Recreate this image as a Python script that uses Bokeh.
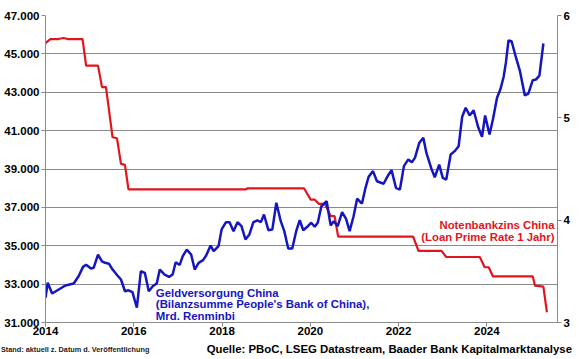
from bokeh.plotting import figure
from bokeh.layouts import column
from bokeh.models import Range1d, LinearAxis, FixedTicker, Label, Div
from bokeh.embed import file_html
from bokeh.resources import INLINE

# Geldversorgung China (Bilanzsumme PBoC), Mrd. Renminbi
money_year = [2014.00, 2014.05, 2014.15, 2014.30, 2014.45, 2014.64, 2014.75, 2014.85, 2014.92, 2015.03,
              2015.09, 2015.19, 2015.28, 2015.35, 2015.44, 2015.52, 2015.63, 2015.71, 2015.80, 2015.88,
              2015.97, 2016.07, 2016.16, 2016.25, 2016.34, 2016.43, 2016.52, 2016.59, 2016.70, 2016.80,
              2016.88, 2016.95, 2017.04, 2017.11, 2017.20, 2017.30, 2017.38, 2017.47, 2017.57, 2017.64,
              2017.74, 2017.81, 2017.92, 2017.99, 2018.09, 2018.17, 2018.26, 2018.35, 2018.44, 2018.53,
              2018.62, 2018.71, 2018.80, 2018.88, 2018.95, 2019.05, 2019.14, 2019.23, 2019.33, 2019.41,
              2019.50, 2019.59, 2019.68, 2019.76, 2019.84, 2019.93, 2020.02, 2020.10, 2020.17, 2020.25,
              2020.37, 2020.46, 2020.53, 2020.62, 2020.72, 2020.81, 2020.89, 2020.98, 2021.06, 2021.17,
              2021.25, 2021.32, 2021.42, 2021.51, 2021.66, 2021.75, 2021.84, 2021.94, 2022.03, 2022.12,
              2022.22, 2022.30, 2022.37, 2022.47, 2022.56, 2022.63, 2022.75, 2022.82, 2022.92, 2023.00,
              2023.08, 2023.18, 2023.27, 2023.36, 2023.44, 2023.52, 2023.61, 2023.70, 2023.80, 2023.89,
              2023.96, 2024.06, 2024.14, 2024.23, 2024.31, 2024.38, 2024.43, 2024.49, 2024.56, 2024.66,
              2024.75, 2024.86, 2024.94, 2025.04, 2025.11, 2025.19, 2025.28]
money_value = [32290, 33070, 32510, 32720, 32930, 33030, 33410, 33900, 34010, 33810,
               33850, 34530, 34190, 34110, 34060, 33760, 33450, 33240, 32630, 32680,
               32580, 31770, 33670, 33590, 32630, 32890, 33030, 33760, 33500, 33380,
               33500, 34140, 34000, 34460, 34800, 34540, 33760, 34110, 34250, 34490,
               35010, 34720, 34980, 35850, 36230, 36230, 35760, 36230, 36020, 35330,
               35590, 36230, 36320, 36230, 36630, 35810, 35850, 37240, 36280, 35760,
               34860, 34860, 35760, 36330, 35810, 35990, 36200, 35990, 36210, 37060,
               37320, 36060, 36280, 36020, 36750, 36400, 35760, 36540, 37450, 37200,
               38020, 38590, 38890, 38360, 38230, 38620, 38940, 38020, 37930, 39150,
               39500, 39350, 39580, 40370, 40630, 39840, 38970, 38570, 39230, 38540,
               38450, 39760, 39930, 40190, 41720, 42190, 41790, 42060, 41200, 40680,
               41790, 40800, 41620, 42710, 43180, 43810, 44530, 45700, 45660, 44800,
               44100, 42830, 42930, 43630, 43660, 43870, 45540]

# Notenbankzins China (Loan Prime Rate 1 Jahr), %
rate_year = [2014.00, 2014.11, 2014.29, 2014.41, 2014.50, 2014.84, 2014.92, 2015.19, 2015.28, 2015.37,
             2015.52, 2015.62, 2015.71, 2015.80, 2015.88, 2018.53, 2018.57, 2019.86, 2020.01, 2020.10,
             2020.19, 2020.33, 2020.46, 2020.55, 2020.63, 2022.33, 2022.45, 2022.97, 2023.08, 2023.84,
             2023.95, 2024.04, 2024.14, 2025.04, 2025.09, 2025.28, 2025.36]
rate_value = [5.73, 5.77, 5.77, 5.78, 5.77, 5.77, 5.51, 5.51, 5.30, 5.30,
              4.81, 4.80, 4.55, 4.54, 4.30, 4.30, 4.31, 4.31, 4.20, 4.20,
              4.16, 4.16, 4.04, 4.04, 3.84, 3.84, 3.70, 3.70, 3.64, 3.64,
              3.54, 3.54, 3.45, 3.45, 3.36, 3.35, 3.10]

left_ticks = [31000, 33000, 35000, 37000, 39000, 41000, 43000, 45000, 47000]
left_labels = ["31.000", "33.000", "35.000", "37.000", "39.000", "41.000", "43.000", "45.000", "47.000"]
year_ticks = [2014, 2016, 2018, 2020, 2022, 2024]
rate_ticks = [3, 4, 5, 6]

blue_lines = ["Geldversorgung China", "(Bilanzsumme People's Bank of China),", "Mrd. Renminbi"]
red_lines = ["Notenbankzins China", "(Loan Prime Rate 1 Jahr)"]
footer_left = "Stand: aktuell z. Datum d. Veröffentlichung"
footer_right = "Quelle: PBoC, LSEG Datastream, Baader Bank Kapitalmarktanalyse"

FONT = "Liberation Sans"
BLUE = "#1616c0"
RED = "#e2141c"
GRID = "#8a8a8a"
W = 572

p = figure(width=W, height=340, output_backend="svg", toolbar_location=None,
           x_range=Range1d(2014, 2025.6), y_range=Range1d(31000, 47000),
           min_border_left=45, min_border_right=12, min_border_top=15, min_border_bottom=18)
p.outline_line_color = None
p.extra_y_ranges = {"rate": Range1d(3, 6)}

p.xgrid.visible = False
p.ygrid.ticker = FixedTicker(ticks=left_ticks)
p.ygrid.grid_line_color = GRID
p.ygrid.grid_line_width = 1


def style_axis(ax, standoff=2):
    ax.axis_line_color = GRID
    ax.axis_line_width = 1
    ax.major_tick_line_color = GRID
    ax.major_tick_out = 4
    ax.major_tick_in = 0
    ax.minor_tick_line_color = None
    ax.major_label_standoff = standoff
    ax.major_label_text_font = FONT
    ax.major_label_text_font_style = "bold"
    ax.major_label_text_font_size = "11.5px"
    ax.major_label_text_color = "black"


p.xaxis.ticker = FixedTicker(ticks=year_ticks)
style_axis(p.xaxis[0], standoff=0)
p.yaxis.ticker = FixedTicker(ticks=left_ticks)
p.yaxis.major_label_overrides = {t: l for t, l in zip(left_ticks, left_labels)}
style_axis(p.yaxis[0])

rax = LinearAxis(y_range_name="rate", ticker=FixedTicker(ticks=rate_ticks))
style_axis(rax)
p.add_layout(rax, "right")

p.line(rate_year, rate_value, y_range_name="rate", line_color=RED, line_width=2.2)
p.line(money_year, money_value, line_color=BLUE, line_width=2.5)

for t, yy in zip(blue_lines, [32560, 31940, 31320]):
    p.add_layout(Label(x=2016.5, y=yy, text=t, text_font=FONT, text_font_style="bold",
                       text_font_size="11.4px", text_color=BLUE, text_baseline="middle",
                       text_align="left"))

for t, yy in zip(red_lines, [36060, 35430]):
    p.add_layout(Label(x=2025.53, y=yy, text=t, text_font=FONT, text_font_style="bold",
                       text_font_size="11.3px", text_color=RED, text_baseline="middle",
                       text_align="right"))

footer_html = (
    '<div style="display:flex;justify-content:space-between;align-items:center;'
    'width:571px;height:11px;line-height:11px;white-space:nowrap;'
    "font-family:'Liberation Sans',Arial,sans-serif;font-weight:bold;\">"
    f'<span style="font-size:7.3px;color:#222222;">{footer_left}</span>'
    f'<span style="font-size:11.4px;color:#000000;">{footer_right}</span>'
    '</div>'
)
footer = Div(text=footer_html, width=W, height=11, margin=(0, 0, 0, 1))

layout = column(p, footer, spacing=0)
open("out.html", "w").write(file_html(layout, INLINE))
